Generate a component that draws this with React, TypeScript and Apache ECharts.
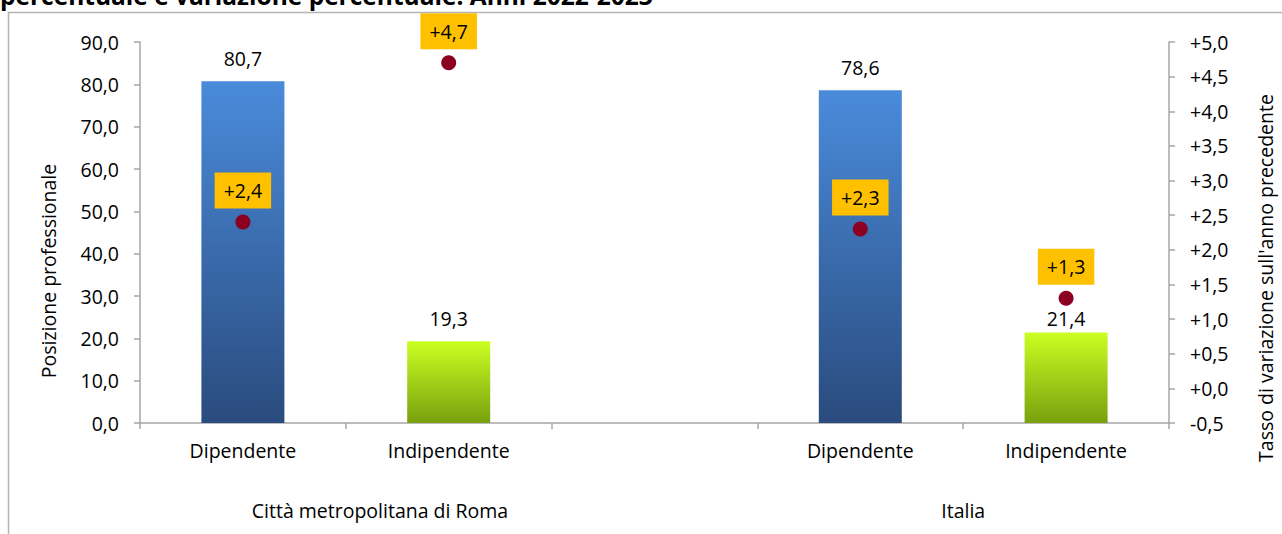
import React, { useEffect, useRef } from "react";
import * as echarts from "echarts";

const categories = ["Dipendente", "Indipendente", "", "Dipendente", "Indipendente"];
const groups = ["Città metropolitana di Roma", "Italia"];
const shareValues: (number | null)[] = [80.7, 19.3, null, 78.6, 21.4];
const changeValues: (number | null)[] = [2.4, 4.7, null, 2.3, 1.3];
const title = "percentuale e variazione percentuale. Anni 2022-2023";
const leftName = "Posizione professionale";
const rightName = "Tasso di variazione sull'anno precedente";

const FONT = "'Open Sans', sans-serif";
const FS = 19.5;

const fmt = (v: number) => v.toFixed(1).replace(".", ",");
const fmtSigned = (v: number) => (v >= 0 ? "+" : "") + fmt(v);

const blueGrad = new echarts.graphic.LinearGradient(0, 0, 0, 1, [
  { offset: 0, color: "#4A8BDB" },
  { offset: 1, color: "#2A4B7D" },
]);
const greenGrad = new echarts.graphic.LinearGradient(0, 0, 0, 1, [
  { offset: 0, color: "#CCFF22" },
  { offset: 1, color: "#78A00E" },
]);

export default function App() {
  const ref = useRef<HTMLDivElement>(null);
  useEffect(() => {
    if (!ref.current) return;
    const chart = echarts.init(ref.current, null, { renderer: "svg" });
    const gridLeft = 140;
    const gridRight = 113;
    const gridTop = 42;
    const gridBottom = 111;
    const W = 1282;
    const slot = (W - gridLeft - gridRight) / categories.length;
    const axisColor = "#A6A6A6";
    chart.setOption({
      animation: false,
      textStyle: { fontFamily: FONT },
      grid: { left: gridLeft, right: gridRight, top: gridTop, bottom: gridBottom, containLabel: false },
      xAxis: {
        type: "category",
        data: categories,
        axisLine: { lineStyle: { color: axisColor, width: 1.5 } },
        axisTick: { show: true, interval: 0, length: 6, lineStyle: { color: axisColor, width: 1.5 } },
        axisLabel: { interval: 0, color: "#000", fontSize: FS, fontFamily: FONT, margin: 17 },
        splitLine: { show: false },
      },
      yAxis: [
        {
          type: "value",
          min: 0,
          max: 90,
          interval: 10,
          axisLine: { show: true, lineStyle: { color: axisColor, width: 1.5 } },
          axisTick: { show: true, length: 6, lineStyle: { color: axisColor, width: 1.5 } },
          axisLabel: { color: "#000", fontSize: FS, fontFamily: FONT, margin: 21, formatter: (v: number) => fmt(v) },
          splitLine: { show: false },
        },
        {
          type: "value",
          min: -0.5,
          max: 5,
          interval: 0.5,
          position: "right",
          axisLine: { show: true, lineStyle: { color: axisColor, width: 1.5 } },
          axisTick: { show: true, length: 6, lineStyle: { color: axisColor, width: 1.5 } },
          axisLabel: { color: "#000", fontSize: FS, fontFamily: FONT, margin: 21, formatter: (v: number) => fmtSigned(v) },
          splitLine: { show: false },
        },
      ],
      series: [
        {
          type: "bar",
          yAxisIndex: 0,
          barWidth: 83,
          data: shareValues.map((v, i) =>
            v == null
              ? "-"
              : {
                  value: v,
                  itemStyle: { color: categories[i] === "Dipendente" ? blueGrad : greenGrad },
                  label: i === 4 ? { distance: 4 } : undefined,
                }
          ),
          label: {
            show: true,
            position: "top",
            distance: 13,
            color: "#000",
            fontSize: FS,
            fontFamily: FONT,
            formatter: (p: any) => fmt(p.value),
          },
        },
        {
          type: "scatter",
          yAxisIndex: 1,
          symbol: "circle",
          symbolSize: 15,
          itemStyle: { color: "#8B0021", opacity: 1 },
          data: changeValues.map((v) => (v == null ? "-" : v)),
          label: {
            show: true,
            position: "top",
            distance: 6,
            color: "#000",
            fontSize: FS,
            fontFamily: FONT,
            backgroundColor: "#FFC000",
            padding: [8, 9, 8, 9],
            formatter: (p: any) => fmtSigned(p.value),
          },
        },
      ],
      graphic: [
        {
          type: "polyline",
          silent: true,
          shape: { points: [[8.5, 540], [8.5, 12.5], [1290, 12.5]] },
          style: { stroke: "#B4B4B4", lineWidth: 1.5, fill: null },
        },
        {
          type: "text",
          x: 0,
          y: 8,
          style: {
            text: title,
            font: `bold 24.5px ${FONT}`,
            fill: "#000",
            textAlign: "left",
            textVerticalAlign: "bottom",
          },
        },
        {
          type: "text",
          x: gridLeft + slot * 1.166,
          y: 510,
          style: {
            text: groups[0],
            font: `${FS}px ${FONT}`,
            fill: "#000",
            textAlign: "center",
            textVerticalAlign: "middle",
          },
        },
        {
          type: "text",
          x: gridLeft + slot * 4,
          y: 510,
          style: {
            text: groups[1],
            font: `${FS}px ${FONT}`,
            fill: "#000",
            textAlign: "center",
            textVerticalAlign: "middle",
          },
        },
        {
          type: "text",
          x: 48,
          y: 271,
          rotation: Math.PI / 2,
          style: {
            text: leftName,
            font: `${FS}px ${FONT}`,
            fill: "#000",
            textAlign: "center",
            textVerticalAlign: "middle",
          },
        },
        {
          type: "text",
          x: 1265,
          y: 278,
          rotation: Math.PI / 2,
          style: {
            text: rightName,
            font: `${FS}px ${FONT}`,
            fill: "#000",
            textAlign: "center",
            textVerticalAlign: "middle",
          },
        },
      ],
    });
    return () => chart.dispose();
  }, []);
  return (
    <div
      ref={ref}
      style={{ position: "absolute", left: 0, top: 0, width: 1282, height: 534, background: "#fff" }}
    />
  );
}
